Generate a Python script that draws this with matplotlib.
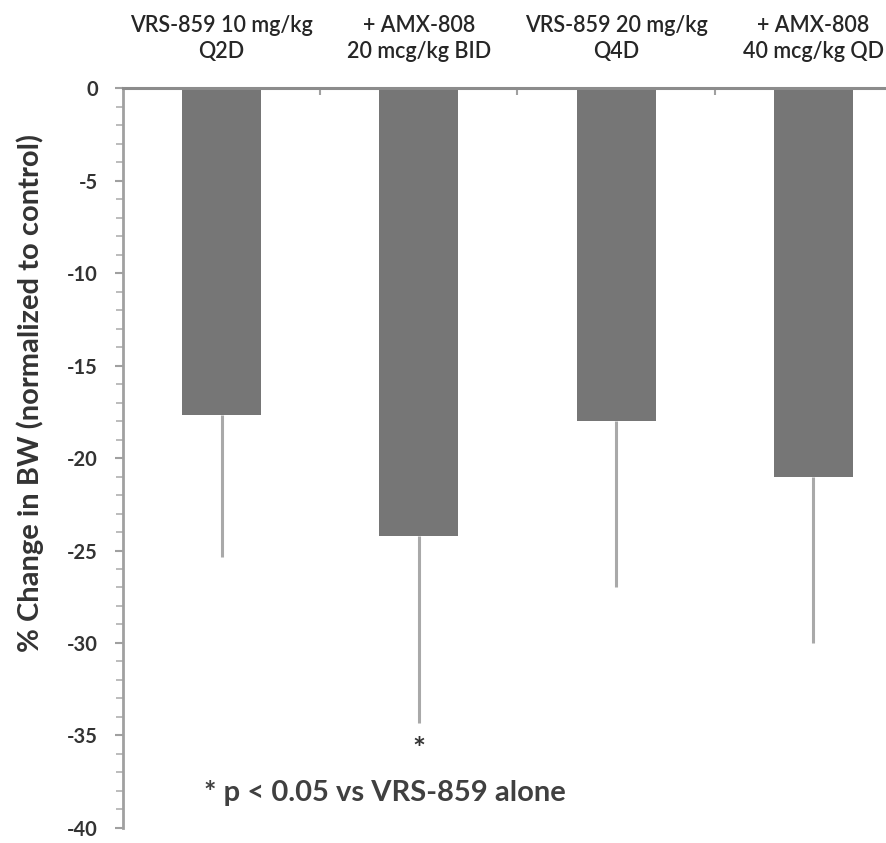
import matplotlib
matplotlib.use('Agg')
import matplotlib.pyplot as plt
from matplotlib.ticker import MultipleLocator

plt.rcParams['font.family'] = ['Lato', 'DejaVu Sans']
plt.rcParams['font.weight'] = 'bold'

# data
groups = ['VRS-859 10 mg/kg\nQ2D', '+ AMX-808\n20 mcg/kg BID',
          'VRS-859 20 mg/kg\nQ4D', '+ AMX-808\n40 mcg/kg QD']
change = [-17.7, -24.2, -18.0, -21.0]
err = [7.65, 10.1, 9.0, 9.0]
y_ticks = [0, -5, -10, -15, -20, -25, -30, -35, -40]

fig = plt.figure(figsize=(8.86, 8.43), dpi=100)
ax = fig.add_axes([0.1388, 0.0178, 0.8905, 0.8778])

x = list(range(len(groups)))
ax.bar(x, change, width=0.40, color='#767676', zorder=2)
# only the lower half of the error bars is shown
ax.errorbar(x, change, yerr=[err, [0] * 4], fmt='none', ecolor='#a9a9a9',
            elinewidth=2.2, capsize=0, zorder=1)

ax.set_xlim(-0.5, 3.5)
ax.set_ylim(-40, 0)

# horizontal axis line at zero, on top
for s in ['right', 'bottom']:
    ax.spines[s].set_visible(False)
ax.spines['top'].set_color('#8c8c8c')
ax.spines['top'].set_linewidth(2.2)
ax.spines['left'].set_color('#a0a0a0')
ax.spines['left'].set_linewidth(2)

ax.xaxis.tick_top()
ax.set_xticks([0.5, 1.5, 2.5])
ax.set_xticklabels([])
ax.tick_params(axis='x', direction='in', length=5, width=1.5, color='#a0a0a0')
for i, g in enumerate(groups):
    ax.text(i, 1.4, g, ha='center', va='bottom', fontsize=15.5,
            fontweight='semibold', color='#262626', linespacing=1.3)

ax.set_yticks(y_ticks)
ax.set_yticklabels([str(v) for v in y_ticks])
ax.yaxis.set_minor_locator(MultipleLocator(1))
ax.tick_params(axis='y', which='major', direction='out', length=6, width=1.5,
               color='#a0a0a0', labelsize=14.5, labelcolor='#333333', pad=12)
ax.tick_params(axis='y', which='minor', direction='out', length=5, width=1.2,
               color='#b0b0b0')

fig.text(0.034, 0.534, '% Change in BW (normalized to control)', rotation=90,
         ha='center', va='center', fontsize=21, fontweight='bold', color='#333333')

ax.text(1, change[1] - err[1] - 1.5, '*', ha='center', va='center',
        fontsize=22, fontweight='bold', color='#333333')
ax.text(-0.09, -38.1, '* p < 0.05 vs VRS-859 alone', ha='left', va='center',
        fontsize=21, fontweight='bold', color='#404040')

fig.savefig('out.png', dpi=100)
